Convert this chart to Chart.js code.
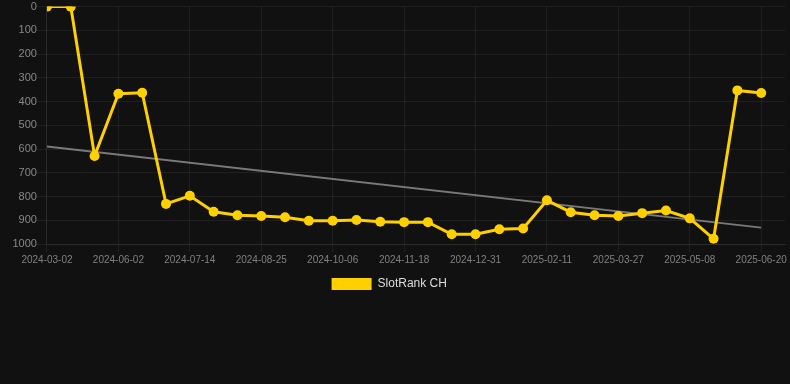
<!DOCTYPE html>
<html>
<head>
<meta charset="utf-8">
<script src="https://cdn.jsdelivr.net/npm/chart.js@4/dist/chart.umd.min.js"></script>
<style>
  html, body { margin: 0; padding: 0; background: #111111; width: 790px; height: 384px; overflow: hidden; }
  #wrap { width: 790px; height: 300px; }
</style>
</head>
<body>
<div id="wrap"><canvas id="chart" width="790" height="300"></canvas></div>
<script>
  // dates on the x axis (every third one is shown)
  const dateLabels = [
    "2024-03-02", "2024-03-30", "2024-04-27", "2024-06-02", "2024-06-16", "2024-06-30",
    "2024-07-14", "2024-07-28", "2024-08-11", "2024-08-25", "2024-09-08", "2024-09-22",
    "2024-10-06", "2024-10-20", "2024-11-04", "2024-11-18", "2024-12-02", "2024-12-16",
    "2024-12-31", "2025-01-14", "2025-01-28", "2025-02-11", "2025-02-25", "2025-03-12",
    "2025-03-27", "2025-04-10", "2025-04-24", "2025-05-08", "2025-05-22", "2025-06-05",
    "2025-06-20"
  ];

  // rank values (lower is better, axis is reversed)
  const rankValues = [
    0, 0, 629, 367, 363, 831, 797, 864, 879, 882, 887, 902, 902, 899, 906, 908,
    908, 959, 959, 938, 935, 816, 866, 879, 882, 870, 859, 892, 978, 353, 364
  ];

  // trend line ends
  const trendStart = 589;
  const trendEnd = 931;

  const yTicks = [0, 100, 200, 300, 400, 500, 600, 700, 800, 900, 1000];

  const yellow = "#FFD000";
  const gridColor = "rgba(255,255,255,0.06)";
  const fontFam = "Arial, Helvetica, sans-serif";

  // nudge the legend a little left, like the original
  const legendShift = {
    id: "legendShift",
    afterLayout(chart) {
      chart.legend.left -= 12;
      chart.legend.right -= 12;
    }
  };

  const ctx = document.getElementById("chart").getContext("2d");

  new Chart(ctx, {
    type: "line",
    data: {
      datasets: [
        {
          label: "SlotRank CH",
          data: rankValues.map((v, i) => ({ x: i, y: v })),
          borderColor: yellow,
          backgroundColor: yellow,
          borderWidth: 3,
          pointRadius: 5,
          pointHoverRadius: 5,
          pointBackgroundColor: yellow,
          pointBorderWidth: 0,
          tension: 0
        },
        {
          label: "trend",
          data: [{ x: 0, y: trendStart }, { x: dateLabels.length - 1, y: trendEnd }],
          borderColor: "rgba(140,140,140,0.85)",
          borderWidth: 2,
          pointRadius: 0,
          pointHoverRadius: 0,
          tension: 0
        }
      ]
    },
    plugins: [legendShift],
    options: {
      responsive: false,
      animation: false,
      layout: { padding: { top: 0, left: 12.5, right: 0, bottom: 0 } },
      scales: {
        x: {
          type: "linear",
          min: 0,
          max: 31.0,
          grid: { color: gridColor, tickLength: 8 },
          border: { color: gridColor },
          ticks: {
            stepSize: 3,
            includeBounds: false,
            autoSkip: false,
            maxRotation: 0,
            padding: 2,
            color: "#808080",
            font: { size: 10, family: fontFam },
            callback: v => dateLabels[v] || ""
          }
        },
        y: {
          reverse: true,
          min: 0,
          max: 1000,
          afterBuildTicks: s => { s.ticks = yTicks.map(v => ({ value: v })); },
          grid: { color: gridColor, tickLength: 10 },
          border: { color: gridColor },
          ticks: {
            color: "#888",
            padding: 0,
            font: { size: 11, family: fontFam },
            callback: v => String(v)
          }
        }
      },
      plugins: {
        legend: {
          position: "bottom",
          labels: {
            color: "#ddd",
            boxWidth: 40,
            boxHeight: 12,
            font: { size: 12, family: fontFam },
            filter: item => item.text !== "trend",
            generateLabels: chart => Chart.defaults.plugins.legend.labels.generateLabels(chart)
              .map(item => Object.assign(item, { lineWidth: 0 }))
          }
        },
        tooltip: { enabled: false }
      }
    }
  });
</script>
</body>
</html>
